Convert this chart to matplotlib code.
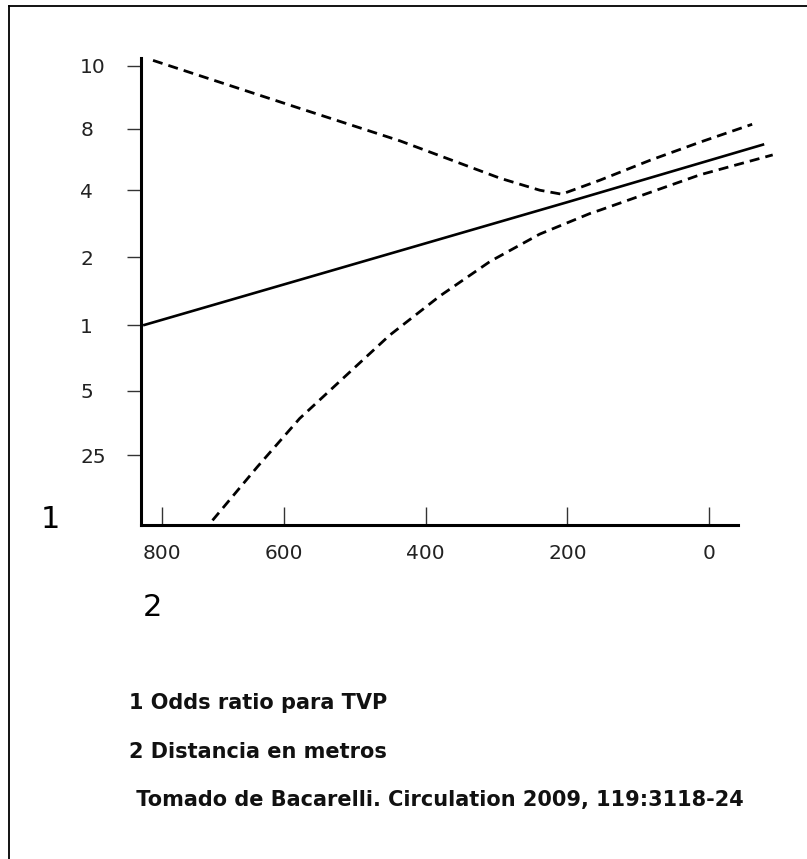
import numpy as np
import matplotlib.pyplot as plt
from matplotlib.lines import Line2D

# distancia (m) y nivel en el eje vertical (unidades de marca)
dist_or = [799, 200, -78]
nivel_or = [0.0, 1.85, 2.72]

dist_sup = [785, 578, 436, 295, 239, 208, 154, 83, 13, -61]
nivel_sup = [3.98, 3.26, 2.77, 2.21, 2.03, 1.97, 2.18, 2.48, 2.75, 3.02]

dist_inf = [701, 638, 578, 511, 451, 380, 309, 239, 168, 154, 13, -90]
nivel_inf = [-2.93, -2.13, -1.40, -0.74, -0.15, 0.44, 0.96, 1.37, 1.68, 1.73, 2.26, 2.56]

ytick_pos = [3.9, 2.95, 2.03, 1.02, 0.0, -0.98, -1.95]
ytick_lab = ['10', '8', '4', '2', '1', '5', '25']
xtick_pos = [773, 600, 400, 200, 0]
xtick_lab = ['800', '600', '400', '200', '0']

fig = plt.figure(figsize=(8.07, 8.59), dpi=100)
ax = fig.add_axes([0.1747, 0.3888, 0.7398, 0.544])

ax.plot(dist_or, nivel_or, color='black', lw=1.9, solid_capstyle='butt', clip_on=False)
ax.plot(dist_sup, nivel_sup, color='black', lw=2.0, dashes=(3.6, 2.2), clip_on=False)
ax.plot(dist_inf, nivel_inf, color='black', lw=2.0, dashes=(3.6, 2.2), clip_on=False)

ax.set_xlim(802, -41)
ax.set_ylim(-3.0, 4.02)

for s in ['top', 'right']:
    ax.spines[s].set_visible(False)
for s in ['left', 'bottom']:
    ax.spines[s].set_linewidth(2.2)

ax.set_yticks(ytick_pos)
ax.set_yticklabels(ytick_lab)
ax.set_xticks(xtick_pos)
ax.set_xticklabels(xtick_lab)
ax.tick_params(axis='y', direction='out', length=10, width=1.0, color='#333333',
               pad=33.8, labelsize=14.5, labelcolor='#222222')
ax.tick_params(axis='x', direction='in', length=13, width=1.0, color='#333333',
               pad=14, labelsize=14.5, labelcolor='#222222')
for t in ax.get_yticklabels():
    t.set_horizontalalignment('left')

fig.text(41 / 807, 1 - 520 / 859, '1', fontsize=22, family='DejaVu Sans',
         ha='left', va='center')
fig.text(143 / 807, 1 - 608 / 859, '2', fontsize=22, family='DejaVu Sans',
         ha='left', va='center')

nota = ['1 Odds ratio para TVP', '2 Distancia en metros',
        ' Tomado de Bacarelli. Circulation 2009, 119:3118-24']
for i, linea in enumerate(nota):
    fig.text(129 / 807, 1 - (703 + 48.5 * i) / 859, linea, fontsize=15,
             family=['DejaVu Sans Condensed', 'DejaVu Sans'],
             fontweight='bold', ha='left', va='center', color='#111111')

# marco
fig.add_artist(Line2D([9 / 807, 9 / 807], [0, 1 - 6 / 859], color='black', lw=1.3,
                      transform=fig.transFigure))
fig.add_artist(Line2D([9 / 807, 1], [1 - 6 / 859, 1 - 6 / 859], color='black', lw=1.3,
                      transform=fig.transFigure))

fig.savefig('out.png', dpi=100)
